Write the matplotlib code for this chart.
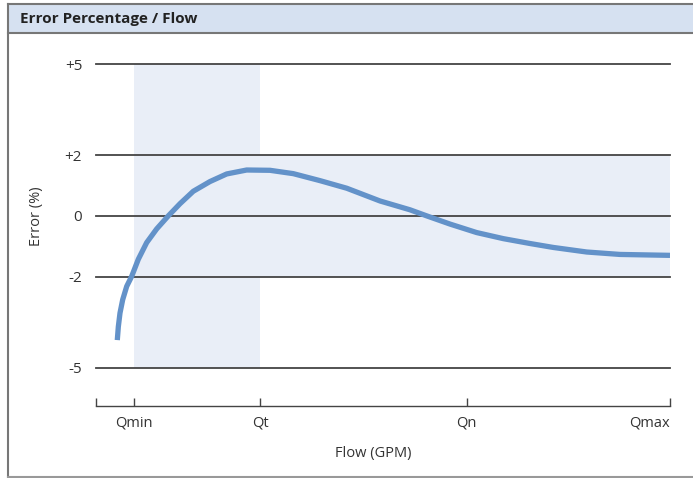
import matplotlib.pyplot as plt
from matplotlib.patches import Rectangle
from matplotlib.lines import Line2D

plt.rcParams['font.family'] = ['Open Sans', 'DejaVu Sans']

# flow on a 0..100 scale, error in %
flow = [3.71, 3.89, 4.18, 4.65, 5.35, 6.22, 7.37, 8.83, 10.57, 12.6, 14.63, 16.95,
        19.86, 22.77, 26.25, 30.31, 34.37, 39.02, 43.68, 49.48, 54.70, 57.61, 61.67,
        66.32, 70.96, 75.61, 79.67, 85.49, 91.29, 100]
error = [-4.09, -3.65, -3.20, -2.76, -2.32, -1.99, -1.43, -0.88, -0.43, 0.0, 0.40, 0.81,
         1.13, 1.38, 1.51, 1.50, 1.39, 1.16, 0.91, 0.49, 0.20, 0.0, -0.27,
         -0.55, -0.75, -0.91, -1.04, -1.19, -1.27, -1.30]

tick_pos = [0, 6.6, 28.6, 64.6, 100]
tick_labels = ["", "Qmin", "Qt", "Qn", "Qmax"]
y_grid = [5, 2, 0, -2, -5]
y_labels = ["+5", "+2", "0", "-2", "-5"]

fig = plt.figure(figsize=(6.93, 4.78), dpi=100)

# panel frame and title band
W, H = 693, 478
fig.add_artist(Rectangle((9 / W, 1 - 33 / H), 1, 29 / H, transform=fig.transFigure,
                         facecolor="#d6e1f1", edgecolor="none", zorder=0))
fig.add_artist(Line2D([8 / W, 1], [1 - 4 / H, 1 - 4 / H], transform=fig.transFigure, color="#777777", lw=1.5))
fig.add_artist(Line2D([8 / W, 1], [1 - 33 / H, 1 - 33 / H], transform=fig.transFigure, color="#777777", lw=1.5))
fig.add_artist(Line2D([8 / W, 8 / W], [1 - 4 / H, 1 - 477 / H], transform=fig.transFigure, color="#777777", lw=1.5))
fig.add_artist(Line2D([8 / W, 1], [1 - 477 / H, 1 - 477 / H], transform=fig.transFigure, color="#999999", lw=1.5))
fig.text(20 / W, 1 - 19 / H, "Error Percentage / Flow", fontsize=11, fontweight="bold",
         color="#222222", va="center", ha="left")

ax = fig.add_axes([96 / W, 1 - 406 / H, 574 / W, 342 / H])
ax.set_xlim(0, 100)
ax.set_ylim(-6.26, 5)

# shaded tolerance zones
ax.fill_between([6.6, 28.6], -5, 5, color="#e9eef7", lw=0, zorder=0)
ax.fill_between([28.6, 100], -2, 2, color="#e9eef7", lw=0, zorder=0)

for y in y_grid:
    ax.axhline(y, color="#444444", lw=1.3, zorder=1, clip_on=False)

ax.plot(flow, error, color="#6392c9", lw=3.8, solid_capstyle="butt",
        solid_joinstyle="round", zorder=3)

for s in ["top", "right", "left"]:
    ax.spines[s].set_visible(False)
ax.spines["bottom"].set_color("#444444")
ax.spines["bottom"].set_linewidth(1.0)

ax.set_yticks(y_grid)
ax.set_yticklabels(y_labels, fontsize=11, color="#333333")
ax.tick_params(axis="y", length=0, pad=10)
ax.set_xticks(tick_pos)
ax.set_xticklabels(tick_labels, fontsize=10.5, color="#333333")
ax.get_xticklabels()[-1].set_ha("right")
ax.tick_params(axis="x", direction="in", length=6, width=1.0, color="#444444", pad=7)

ax.text(-0.103, 0, "Error (%)", transform=ax.get_yaxis_transform(), rotation=90,
        ha="center", va="center", fontsize=10.5, color="#333333")
fig.text(373 / W, 1 - 453 / H, "Flow (GPM)", ha="center", va="center", fontsize=10.5, color="#333333")

fig.savefig("out.png", dpi=100)
